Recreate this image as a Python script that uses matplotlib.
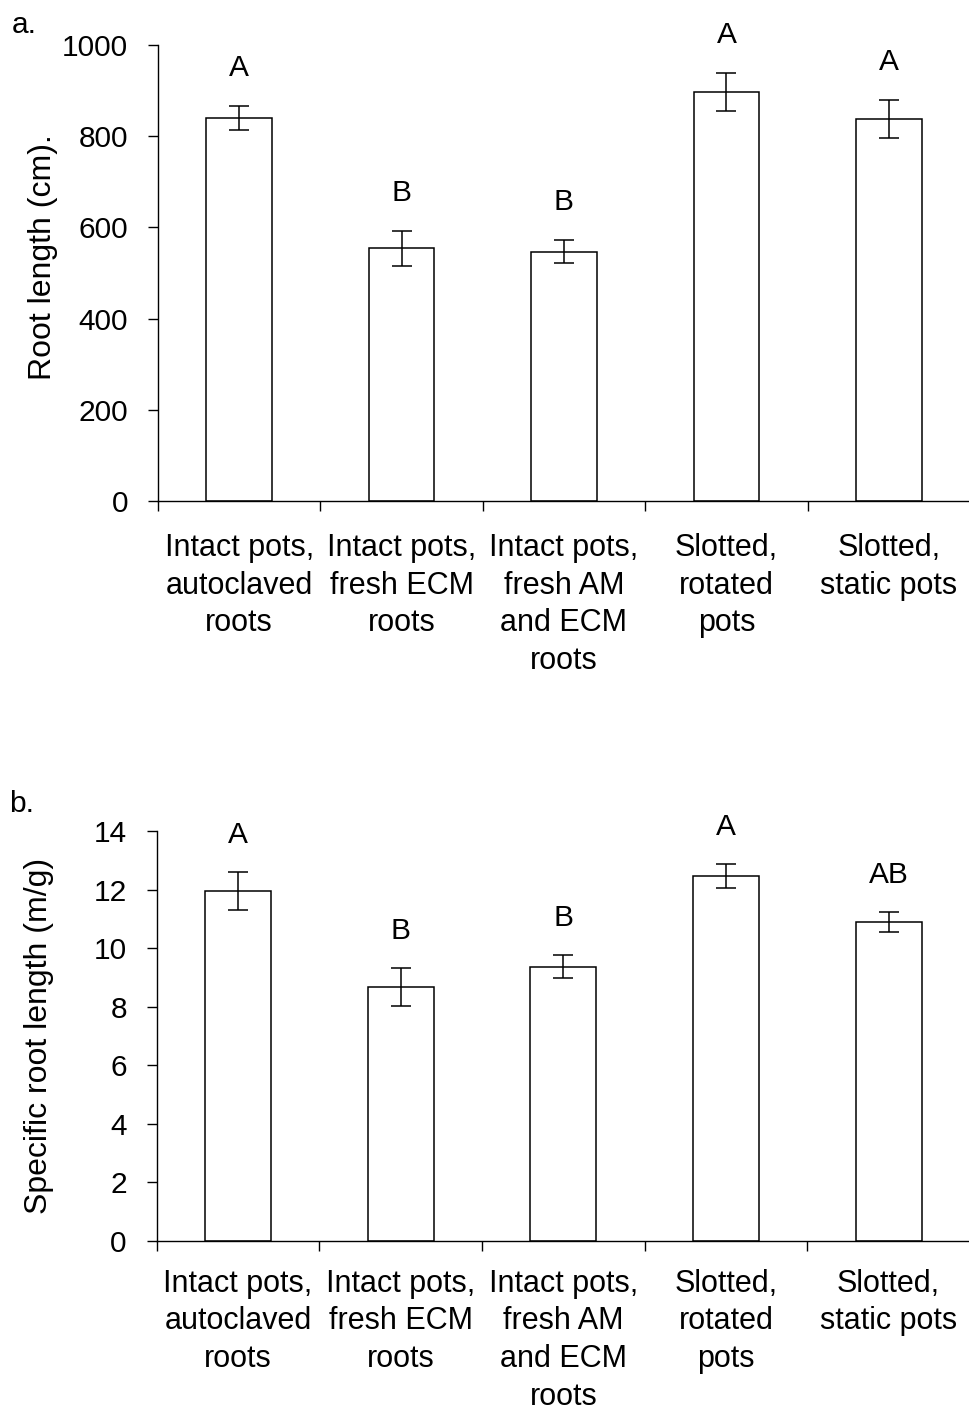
import matplotlib
matplotlib.use("Agg")
import matplotlib.pyplot as plt
import numpy as np

plt.rcParams['font.family'] = ['Liberation Sans', 'DejaVu Sans']

categories = ["Intact pots,\nautoclaved\nroots",
              "Intact pots,\nfresh ECM\nroots",
              "Intact pots,\nfresh AM\nand ECM\nroots",
              "Slotted,\nrotated\npots",
              "Slotted,\nstatic pots"]

root_length = [840, 554, 547, 897, 838]
root_length_err = [27, 38, 25, 41, 41]
root_length_letters = ["A", "B", "B", "A", "A"]

srl = [11.95, 8.68, 9.37, 12.47, 10.89]
srl_err = [0.64, 0.655, 0.40, 0.40, 0.35]
srl_letters = ["A", "B", "B", "A", "AB"]

W, H = 970, 1414
fig = plt.figure(figsize=(W / 100, H / 100), dpi=100)

FS = 21.5
FS_CAT = 22
FS_LAB = 23


def panel(rect, vals, errs, letters, ylim, yticks, ylabel, xmax, label_x, label_y,
          letter_off, panel_lab, panel_xy, cat_pad):
    ax = fig.add_axes(rect)
    x = np.arange(len(vals))
    ax.bar(x, vals, width=0.405, color='white', edgecolor='black', linewidth=1.1, zorder=2)
    ax.errorbar(x, vals, yerr=errs, fmt='none', ecolor='black', elinewidth=1.1,
                capsize=7, capthick=1.1, zorder=3)
    for xi, v, e, t in zip(x, vals, errs, letters):
        ax.annotate(t, xy=(xi, v + e), xytext=(0, letter_off), textcoords='offset pixels',
                    ha='center', va='center', fontsize=FS)
    ax.set_xlim(-0.5, xmax)
    ax.set_ylim(*ylim)
    ax.set_yticks(yticks)
    ax.set_yticklabels([str(t) for t in yticks], fontsize=FS)
    ax.set_xticks(x)
    ax.set_xticklabels(categories, fontsize=FS_CAT, linespacing=1.33, va='top')
    ax.set_xticks(np.arange(-0.5, len(vals), 1.0), minor=True)
    ax.tick_params(axis='x', which='major', length=0, pad=cat_pad)
    ax.tick_params(axis='x', which='minor', length=7.5, width=1.0, direction='out')
    ax.tick_params(axis='y', length=7.5, width=1.0, direction='out', pad=14)
    for s in ['top', 'right']:
        ax.spines[s].set_visible(False)
    for s in ['left', 'bottom']:
        ax.spines[s].set_linewidth(1.0)
    ax.set_ylabel(ylabel, fontsize=FS_LAB)
    ax.yaxis.set_label_coords(label_x, label_y)
    fig.text(panel_xy[0], panel_xy[1], panel_lab, fontsize=FS, ha='left', va='center')
    return ax


panel([158 / W, 1 - 501 / H, 1 - 158 / W, (501 - 45) / H],
      root_length, root_length_err, root_length_letters,
      (0, 1000), [0, 200, 400, 600, 800, 1000], "Root length (cm).",
      -0.5 + (W - 158) / 163.0, -0.123, 0.534, 38, "a.", (12 / W, 1 - 25 / H), 23)

panel([156.7 / W, 1 - 1241 / H, 1 - 156.7 / W, (1241 - 831) / H],
      srl, srl_err, srl_letters,
      (0, 14), [0, 2, 4, 6, 8, 10, 12, 14], "Specific root length (m/g)",
      -0.5 + (W - 156.7) / 165.0, -0.126, 0.5, 37, "b.", (9 / W, 1 - 804 / H), 20)

fig.savefig("out.png", dpi=100)
